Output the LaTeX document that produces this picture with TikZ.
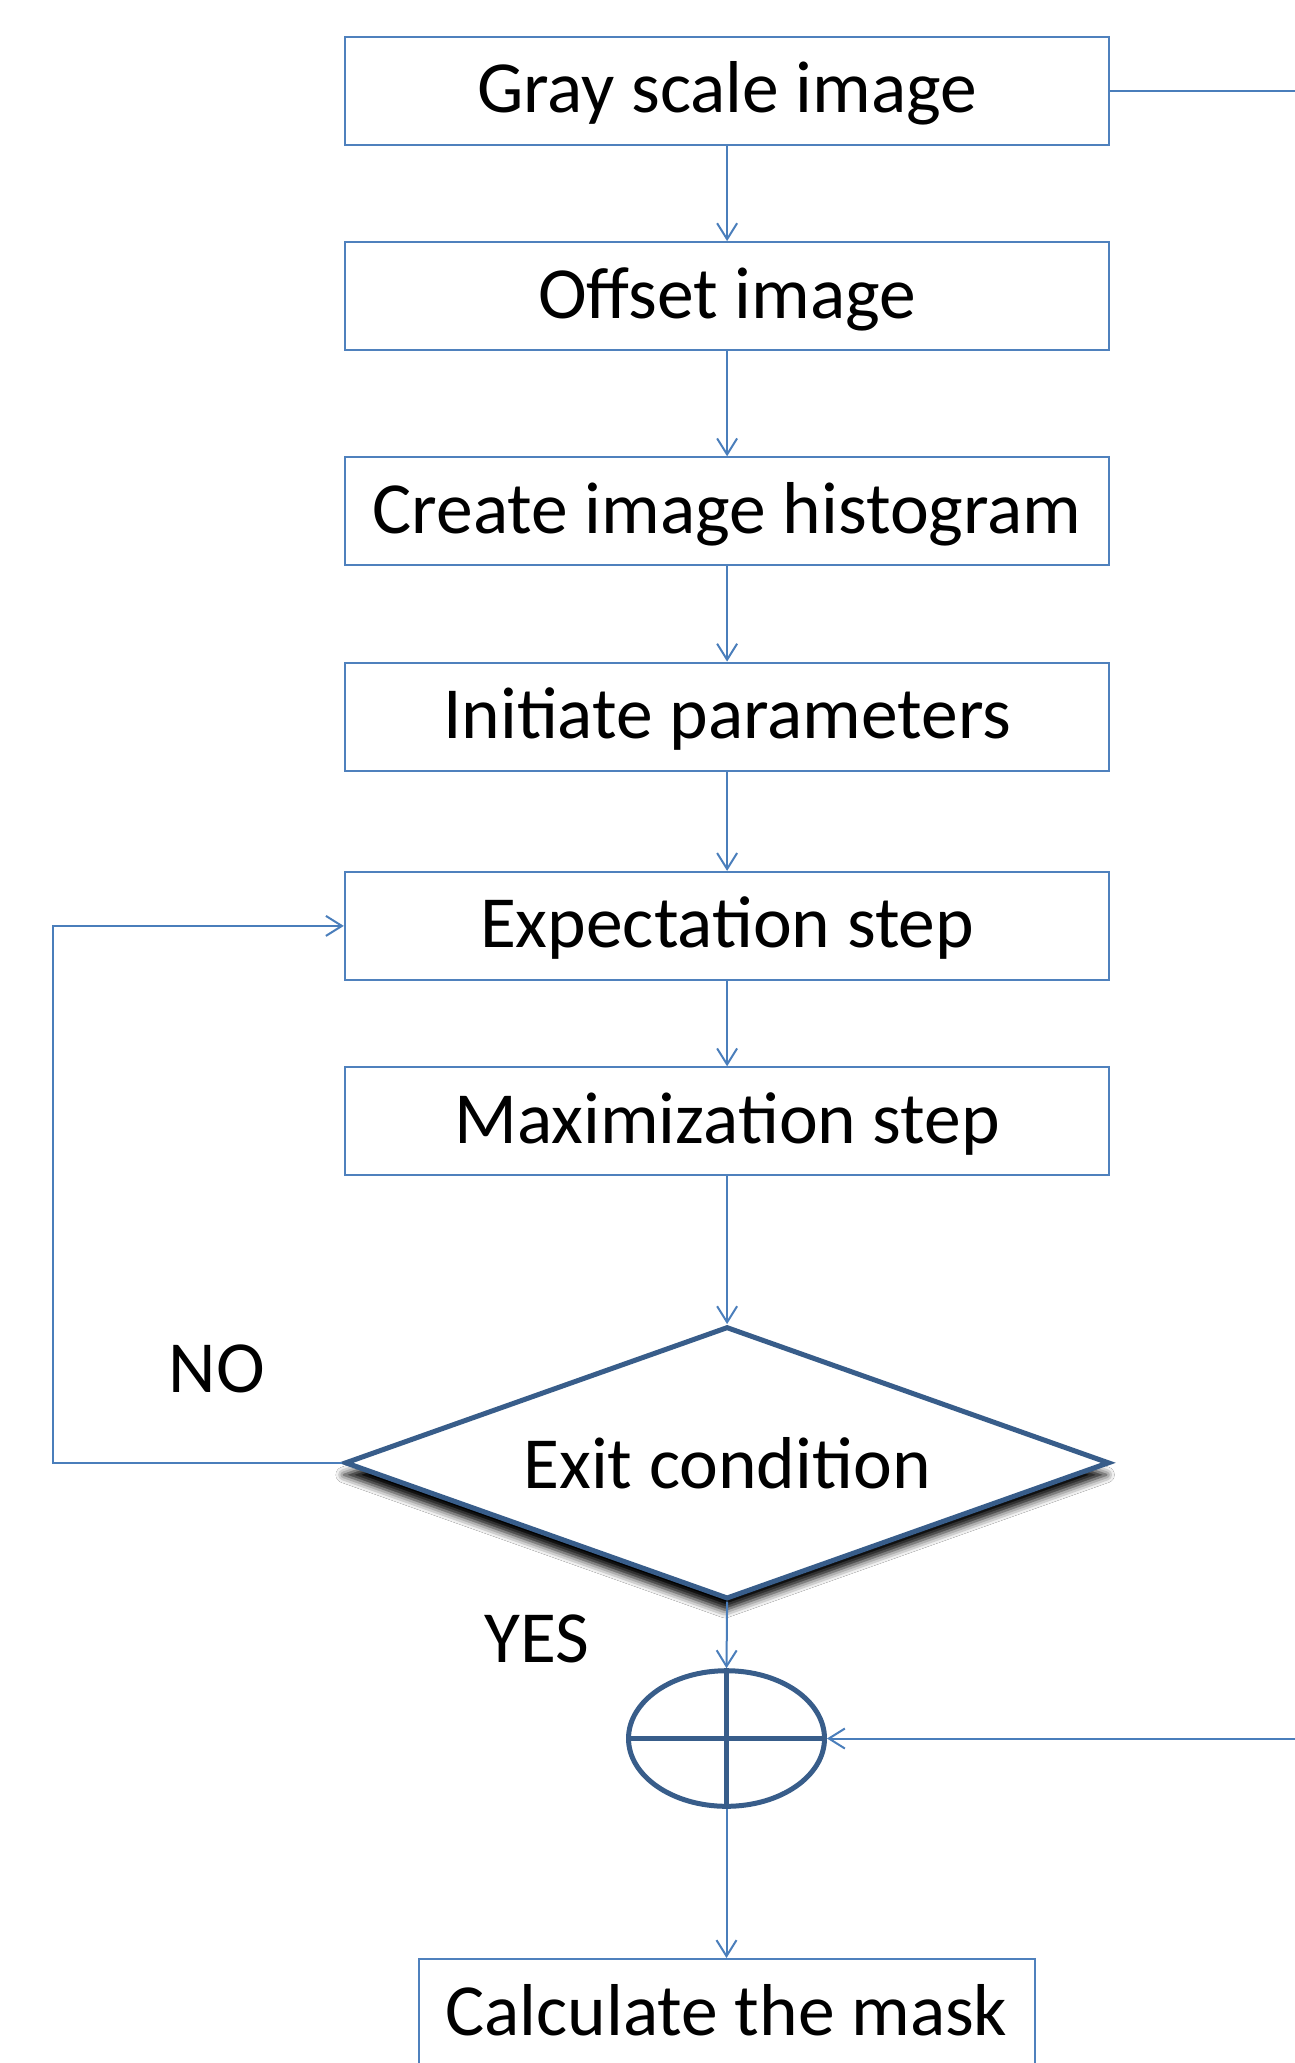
\documentclass[tikz,border=0pt]{standalone}
\usepackage{fontspec}
\setmainfont{Carlito}
\usetikzlibrary{arrows.meta,shapes.geometric,shadows.blur}
\definecolor{lineblue}{HTML}{4A7EBB}
\definecolor{boxblue}{HTML}{4F81BD}
\definecolor{darkblue}{HTML}{385D8A}
\begin{document}
\begin{tikzpicture}[x=0.5pt,y=-0.5pt,
  lab/.style={font=\fontsize{36.75}{44}\selectfont, text=black},
  stepbox/.style={lab, draw=boxblue, line width=1pt, fill=white, minimum width=382.3pt, minimum height=54pt, inner sep=0pt, text height=26pt, text depth=4pt},
  decision/.style={lab, diamond, draw=darkblue, line width=2.5pt, fill=white, minimum width=382.3pt, minimum height=136.2pt, inner sep=0pt, aspect=2.8,
     blur shadow={shadow xshift=-1pt, shadow yshift=-6pt, shadow opacity=100, shadow blur radius=4pt}},
  summer/.style={ellipse, draw=darkblue, line width=2.5pt, fill=white, minimum width=98pt, minimum height=67.8pt, inner sep=0pt},
  conn/.style={draw=lineblue, line width=1pt},
  arr/.style={conn, -{Straight Barb[length=8pt,width=10pt,line width=1pt]}}
]
\clip (0,0) rectangle (1295,2063);
\fill[white] (0,0) rectangle (1295,2063);

\node[stepbox] (b1) at (727.1,90.8) {Gray scale image};
\node[stepbox] (b2) at (727.1,296.1) {Offset image};
\node[stepbox] (b3) at (727.1,511.3) {Create image histogram};
\node[stepbox] (b4) at (727.1,716.6) {Initiate parameters};
\node[stepbox] (b5) at (727.1,925.9) {Expectation step};
\node[stepbox] (b6) at (727.1,1121.3) {Maximization step};
\node[decision] (d) at (727.1,1462.8) {Exit condition};
\node[summer] (e) at (726.5,1738.5) {};
\node[stepbox, minimum width=308pt] (b7) at (726.5,2013) {Calculate the mask};

\draw[darkblue, line width=2.5pt] (e.north) -- (e.south);
\draw[darkblue, line width=2.5pt] (e.west) -- (e.east);

\node[lab] (no) at (217,1368.7) {NO};
\node[lab] (yes) at (537,1638.5) {YES};

\coordinate (r1) at (1296,90.8);
\coordinate (r2) at (1296,1738.5);
\coordinate (lp) at (52.6,1462.8);

\draw[conn] (b1.east) -- (r1);
\draw[arr] (b1) -- (b2);
\draw[arr] (b2) -- (b3);
\draw[arr] (b3) -- (b4);
\draw[arr] (b4) -- (b5);
\draw[arr] (b5) -- (b6);
\draw[arr] (b6) -- (d.north);
\draw[arr] (d.west) -- (lp) |- (b5.west);
\draw[arr] (d.south) -- (e.north);
\draw[arr] (r2) -- (e.east);
\draw[arr] (e.south) -- (b7.north);
\end{tikzpicture}
\end{document}
